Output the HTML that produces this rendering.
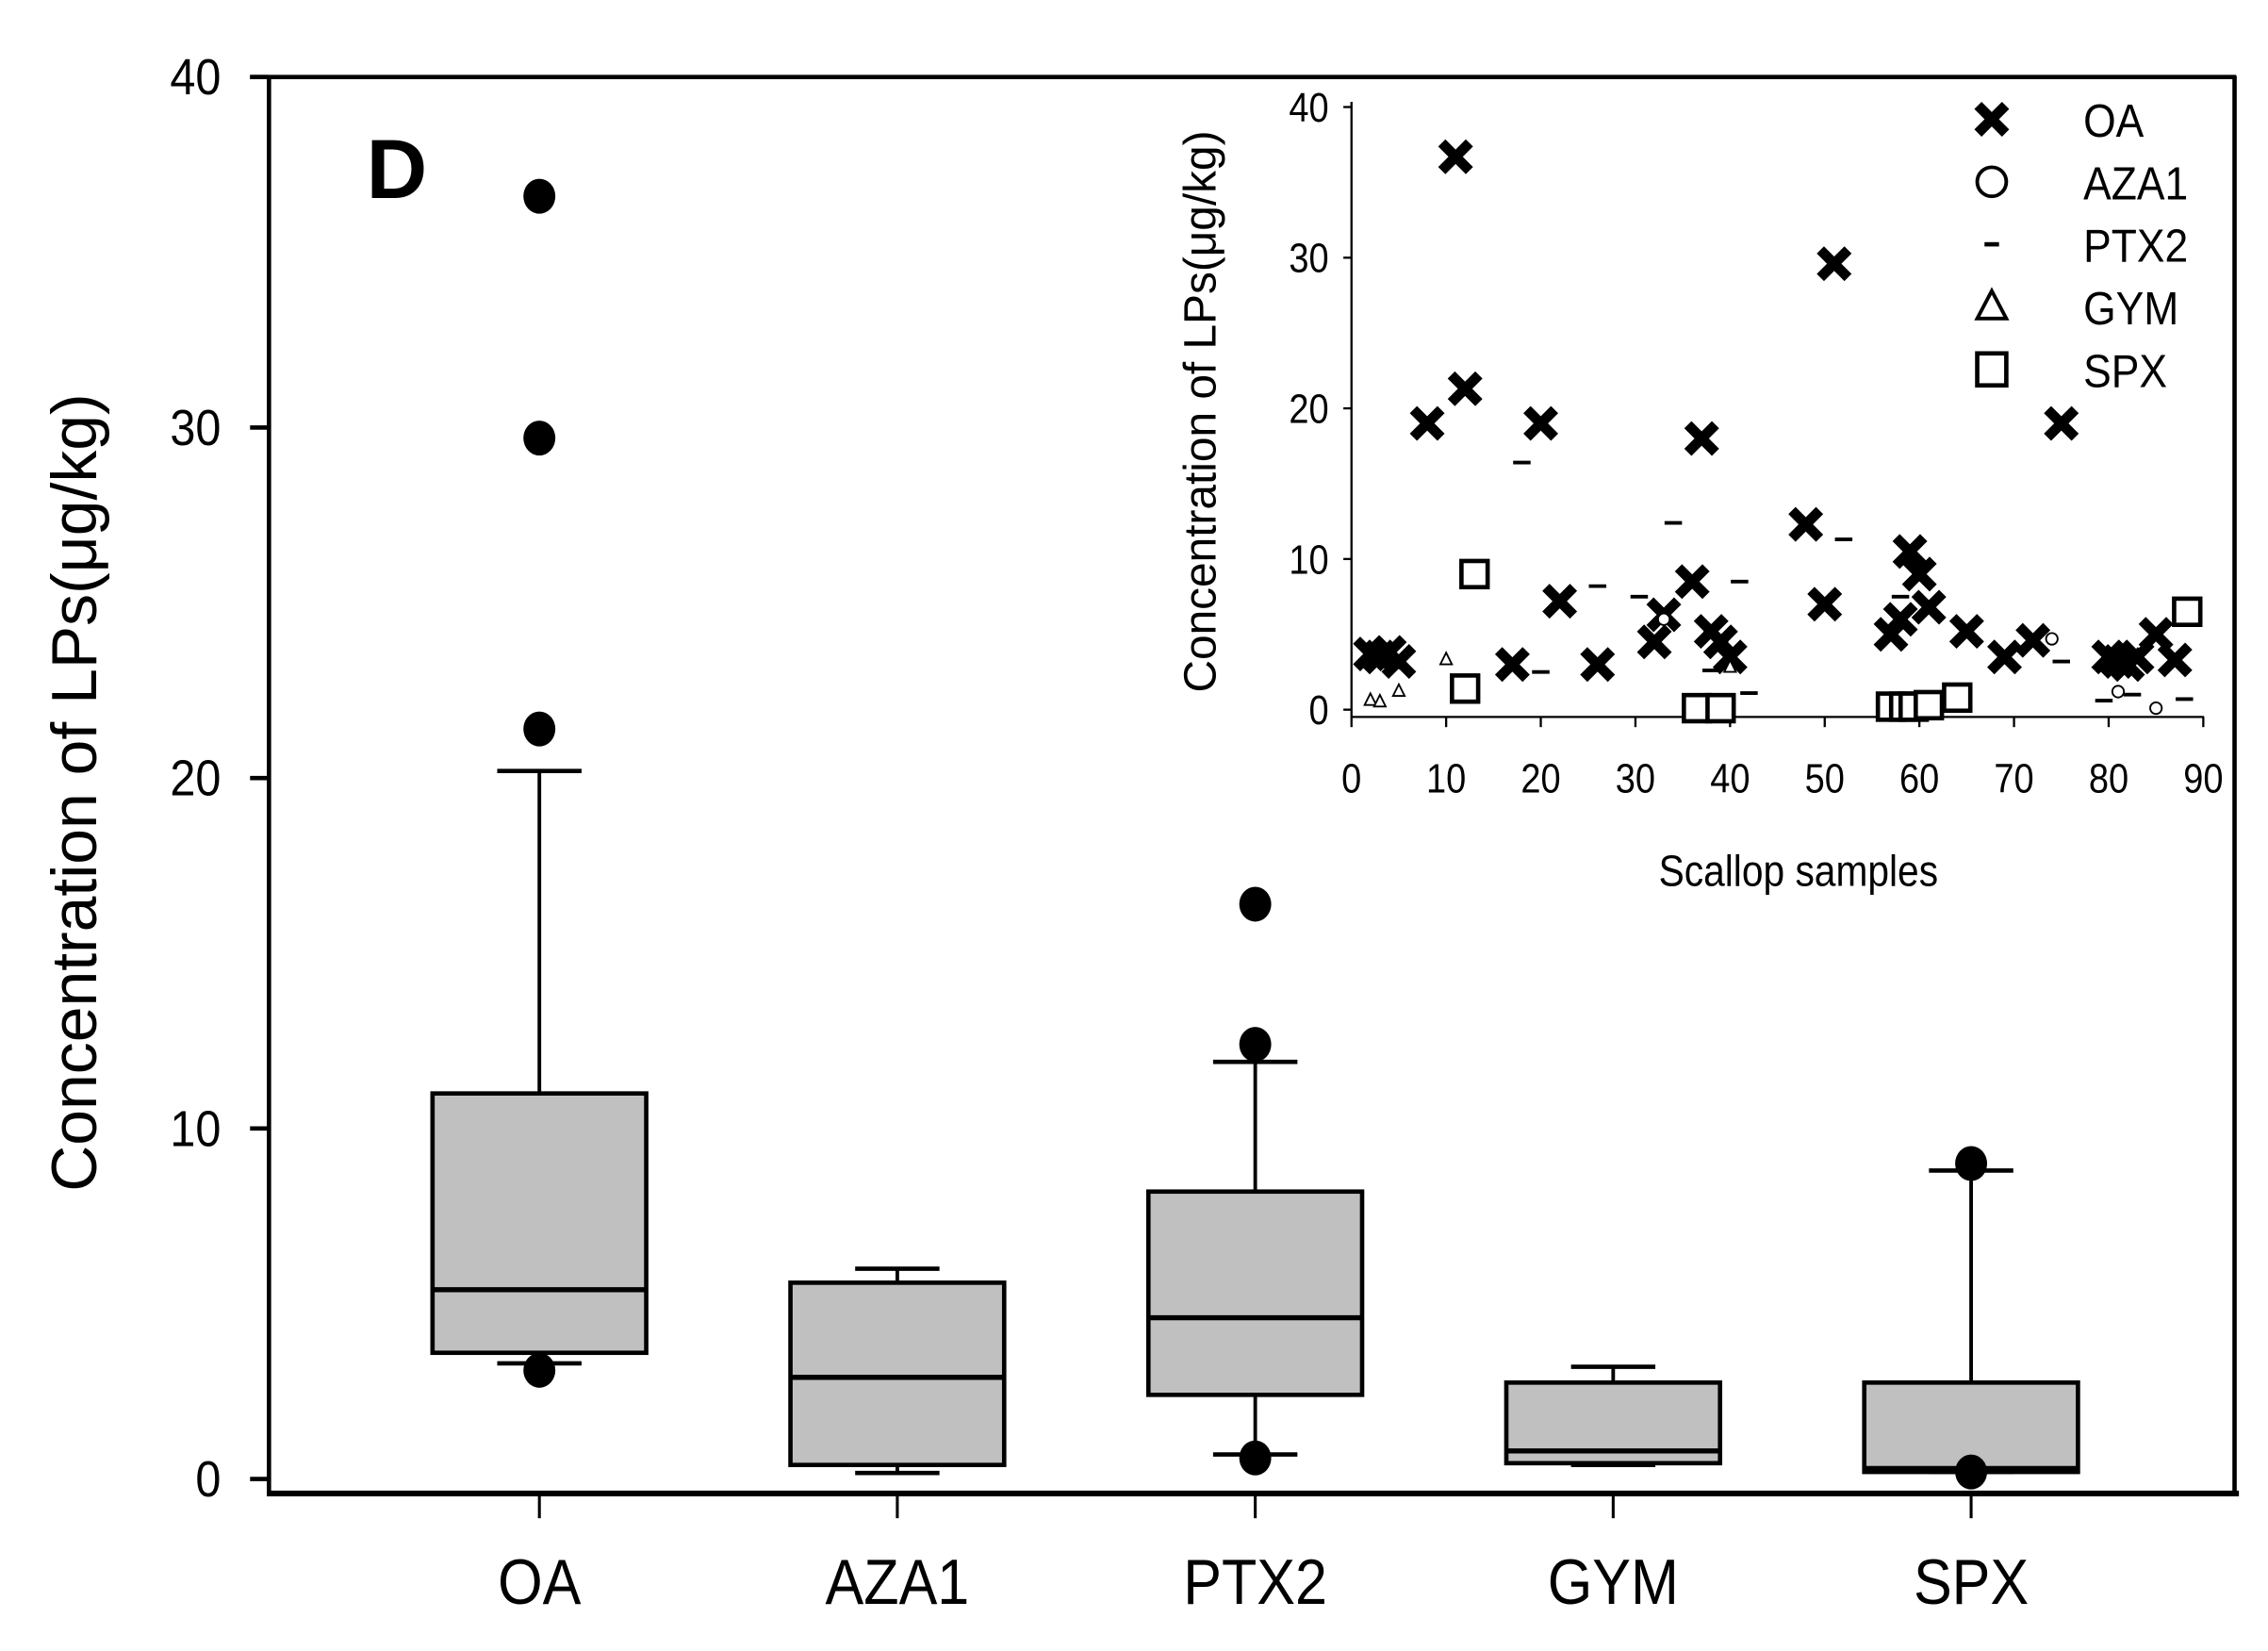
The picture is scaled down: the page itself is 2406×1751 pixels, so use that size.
<!DOCTYPE html>
<html><head><meta charset="utf-8"><style>
html,body{margin:0;padding:0;background:#fff}
svg{display:block}
text{font-family:"Liberation Sans",Arial,sans-serif;fill:#000}
</style></head><body>
<svg id="chart" xmlns="http://www.w3.org/2000/svg" width="2406" height="1751" viewBox="0 0 1560 1135.3" preserveAspectRatio="none">
<rect x="0" y="0" width="1560" height="1136" fill="#fff"/>
<g id="main"></g>
<g id="inset"></g>
</svg>
<script>
// ---- Main box plot data ----
const categories = ["OA","AZA1","PTX2","GYM","SPX"];
const q1 = [3.6, 0.4, 2.4, 0.45, 0.2];
const medians = [5.4, 2.9, 4.6, 0.8, 0.3];
const q3 = [11.0, 5.6, 8.2, 2.75, 2.75];
const whiskerLow = [3.3, 0.17, 0.7, 0.4, 0.2];
const whiskerHigh = [20.2, 6.0, 11.9, 3.2, 8.8];
const outlierCat = [0, 0, 0, 0, 2, 2, 2, 4, 4];
const outlierVal = [36.6, 29.7, 21.4, 3.1, 16.4, 12.4, 0.6, 9.0, 0.2];
const yTicks = [0, 10, 20, 30, 40];

// ---- Inset scatter data ----
const oaX = [2,3,4,5,8,11,12,17,20,22,26,32,33,36,37,38,39,40,48,50,51,57,58,59,60,61,65,69,72,75,80,81,82,83,85,87];
const oaY = [3.7,3.5,3.8,3.2,19,36.7,21.3,3,19,7.2,3,4.5,6.3,8.5,18,5.2,4.5,3.5,12.3,7,29.6,5,6,10.5,9,6.8,5.2,3.5,4.6,19,3.5,3.2,3,3.5,5,3.3];
const ptxX = [18,20,26,30.4,34,38,41,42,52,58,75,79.5,82.5,88];
const ptxY = [16.4,2.5,8.2,7.5,12.4,2.6,8.5,1.1,11.3,7.5,3.2,0.6,1.0,0.7];
const gymX = [2,3,5,10,40];
const gymY = [0.6,0.5,1.2,3.3,2.8];
const azaX = [33,74,81,85,87.5];
const azaY = [6,4.7,1.2,0.1,6];
const spxX = [12,13,36.5,39,57,58.4,59.4,61,64,88.3];
const spxY = [1.4,9,0.1,0.1,0.2,0.2,0.2,0.3,0.8,6.5];
const insetXTicks = [0,10,20,30,40,50,60,70,80,90];
const insetYTicks = [0,10,20,30,40];

const NS = "http://www.w3.org/2000/svg";
function mk(parent, tag, attrs, txt){
  const e = document.createElementNS(NS, tag);
  for (const k in attrs) e.setAttribute(k, attrs[k]);
  if (txt !== undefined) e.textContent = txt;
  parent.appendChild(e);
  return e;
}

const main = document.getElementById("main");
const yMain = v => 1017 - v * 24.1;
const xMain = i => 371 + i * 246.2;
let e;
e = mk(main, "line", {x1:185,y1:53,x2:185,y2:1029,stroke:"#000","stroke-width":3});


e = mk(main, "line", {x1:184,y1:1027,x2:1540,y2:1027,stroke:"#000","stroke-width":4});


e = mk(main, "line", {x1:172,y1:53,x2:1538,y2:53,stroke:"#000","stroke-width":3});


e = mk(main, "line", {x1:1537,y1:52,x2:1537,y2:1029,stroke:"#000","stroke-width":3});


yTicks.forEach(v => {
  const y = yMain(v);
  e = mk(main, "line", {x1:172,y1:y,x2:185,y2:y,stroke:"#000","stroke-width":3});
  
  
  e = mk(main, "text", {x:152,y:y+12,"font-size":35,"text-anchor":"end",transform:`translate(152 0) scale(0.9 1) translate(-152 0)`}, String(v));
  
  
});
e = mk(main, "text", {x:0,y:0,"font-size":44,"text-anchor":"middle",transform:"translate(66,545) rotate(-90)"}, "Concentration of LPs(μg/kg)");


e = mk(main, "text", {x:252,y:136,"font-size":58,"font-weight":"bold"}, "D");



categories.forEach((c, i) => {
  const x = xMain(i);
  e = mk(main, "line", {x1:x,y1:1027,x2:x,y2:1044,stroke:"#000","stroke-width":2});
  
  
  e = mk(main, "text", {x:x,y:1103,"font-size":44,"text-anchor":"middle",transform:`translate(${x} 0) scale(0.9 1) translate(${-x} 0)`}, c);
  
  
  e = mk(main, "line", {x1:x,y1:yMain(q3[i]),x2:x,y2:yMain(whiskerHigh[i]),stroke:"#000","stroke-width":2.5});
  
  
  e = mk(main, "line", {x1:x,y1:yMain(q1[i]),x2:x,y2:yMain(whiskerLow[i]),stroke:"#000","stroke-width":2.5});
  
  
  e = mk(main, "line", {x1:x-29,y1:yMain(whiskerHigh[i]),x2:x+29,y2:yMain(whiskerHigh[i]),stroke:"#000","stroke-width":3});
  
  
  e = mk(main, "line", {x1:x-29,y1:yMain(whiskerLow[i]),x2:x+29,y2:yMain(whiskerLow[i]),stroke:"#000","stroke-width":3});
  
  
  e = mk(main, "rect", {x:x-73.5,y:yMain(q3[i]),width:147,height:yMain(q1[i])-yMain(q3[i]),fill:"#c0c0c0",stroke:"#000","stroke-width":3});
  
  
  e = mk(main, "line", {x1:x-73.5,y1:yMain(medians[i]),x2:x+73.5,y2:yMain(medians[i]),stroke:"#000","stroke-width":3.5});
  
  
});
outlierVal.forEach((v, k) => {
  e = mk(main, "ellipse", {cx:xMain(outlierCat[k]),cy:yMain(v),rx:11,ry:12,fill:"#000"});
  
  
});

// inset
const ins = document.getElementById("inset");
const xI = v => 929.6 + v * 6.51;
const yI = v => 488 - v * 10.36;
e = mk(ins, "line", {x1:929.6,y1:70,x2:929.6,y2:494,stroke:"#000","stroke-width":1.5});


e = mk(ins, "line", {x1:929,y1:493,x2:1516,y2:493,stroke:"#000","stroke-width":1.5});


insetYTicks.forEach(v => {
  e = mk(ins, "line", {x1:924,y1:yI(v),x2:930,y2:yI(v),stroke:"#000","stroke-width":1.5});
  
  
  e = mk(ins, "text", {x:914,y:yI(v)+10,"font-size":28,"text-anchor":"end",transform:`translate(914 0) scale(0.88 1) translate(-914 0)`}, String(v));
  
  
});
insetXTicks.forEach(v => {
  e = mk(ins, "line", {x1:xI(v),y1:493,x2:xI(v),y2:500,stroke:"#000","stroke-width":1.5});
  
  
  e = mk(ins, "text", {x:xI(v),y:545,"font-size":28,"text-anchor":"middle",transform:`translate(${xI(v)} 0) scale(0.88 1) translate(${-xI(v)} 0)`}, String(v));
  
  
});
e = mk(ins, "text", {x:1237,y:609,"font-size":30,"text-anchor":"middle",transform:"translate(1237 0) scale(0.88 1) translate(-1237 0)"}, "Scallop samples");


e = mk(ins, "text", {x:0,y:0,"font-size":31,"text-anchor":"middle",transform:"translate(836,283) rotate(-90)"}, "Concentration of LPs(μg/kg)");



function cross(g, cx, cy, s){
  return mk(g, "path", {d:`M${cx-s} ${cy-s}L${cx+s} ${cy+s}M${cx+s} ${cy-s}L${cx-s} ${cy+s}`,stroke:"#000","stroke-width":7,fill:"none"});
}
oaX.forEach((x, k) => {
  e = cross(ins, xI(x), yI(oaY[k]), 9.5);
  
  
});
ptxX.forEach((x, k) => {
  e = mk(ins, "line", {x1:xI(x)-6,y1:yI(ptxY[k]),x2:xI(x)+6,y2:yI(ptxY[k]),stroke:"#000","stroke-width":2.5});
  
  
});
gymX.forEach((x, k) => {
  const cx = xI(x), cy = yI(gymY[k]);
  e = mk(ins, "path", {d:`M${cx} ${cy-5}L${cx+4} ${cy+3}L${cx-4} ${cy+3}Z`,fill:"#fff",stroke:"#000","stroke-width":1.2});
  
  
});
azaX.forEach((x, k) => {
  e = mk(ins, "circle", {cx:xI(x),cy:yI(azaY[k]),r:4,fill:"#fff",stroke:"#000","stroke-width":1.2});
  
  
});
spxX.forEach((x, k) => {
  e = mk(ins, "rect", {x:xI(x)-9,y:yI(spxY[k])-9,width:18,height:18,fill:"#fff",stroke:"#000","stroke-width":3});
  
  
});

// legend
const legNames = ["OA","AZA1","PTX2","GYM","SPX"];
legNames.forEach((n, k) => {
  const y = 82 + k * 43;
  const mx = 1370;
  if (k === 0) { e = cross(ins, mx, y, 9.5); }
  else if (k === 1) { e = mk(ins, "circle", {cx:mx,cy:y,r:10,fill:"#fff",stroke:"#000","stroke-width":2.5}); }
  else if (k === 2) { e = mk(ins, "line", {x1:mx-5,y1:y,x2:mx+5,y2:y,stroke:"#000","stroke-width":3}); }
  else if (k === 3) { e = mk(ins, "path", {d:`M${mx} ${y-11}L${mx+10} ${y+8}L${mx-10} ${y+8}Z`,fill:"#fff",stroke:"#000","stroke-width":2.5}); }
  else { e = mk(ins, "rect", {x:mx-10,y:y-11,width:20,height:22,fill:"#fff",stroke:"#000","stroke-width":3}); }
  
  
  e = mk(ins, "text", {x:1433,y:y+12,"font-size":32,transform:"translate(1433 0) scale(0.9 1) translate(-1433 0)"}, n);
  
  
});
</script>
</body></html>
